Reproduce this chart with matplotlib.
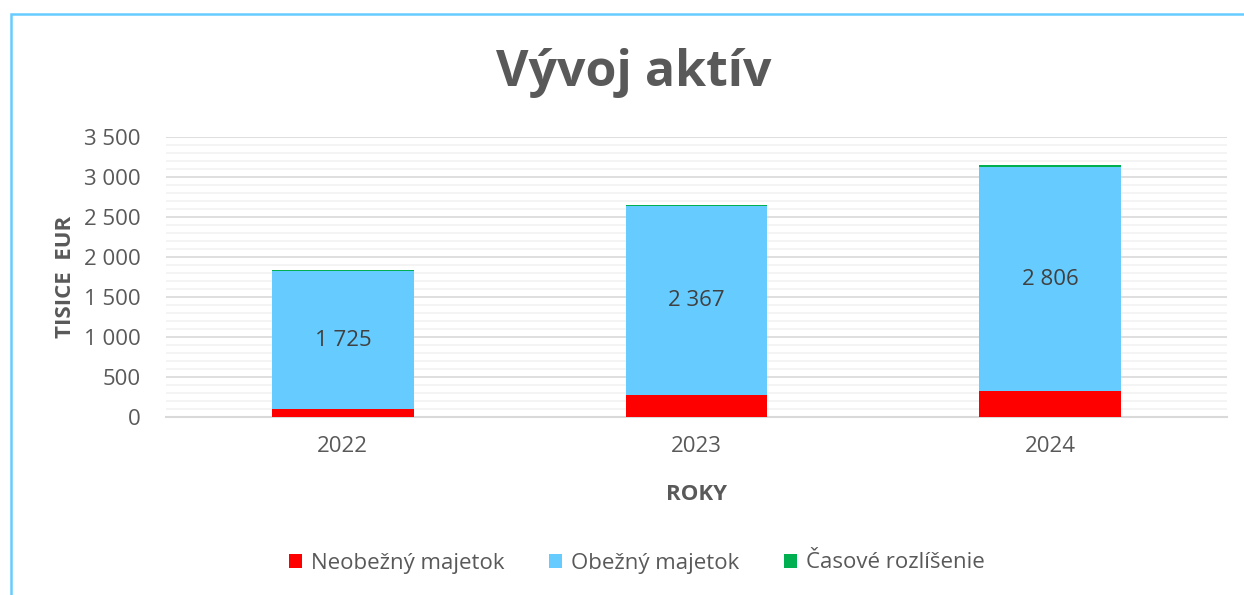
import matplotlib
matplotlib.use("Agg")
import matplotlib.pyplot as plt
from matplotlib.patches import Rectangle
from matplotlib.ticker import MultipleLocator, FuncFormatter

years = ["2022", "2023", "2024"]
neobezny = [95, 275, 316]
obezny = [1725, 2367, 2806]
casove = [15, 12, 24]
series_names = ["Neobežný majetok", "Obežný majetok", "Časové rozlíšenie"]
colors = ["#FF0000", "#66CCFF", "#00B050"]

plt.rcParams['font.family'] = ['Open Sans', 'DejaVu Sans']
txt = "#595959"

fig = plt.figure(figsize=(12.44, 5.95), dpi=100)
ax = fig.add_axes([166/1244, 1-416.7/595, (1227-166)/1244, (416.7-137)/595])

x = range(len(years))
w = 0.40
b1 = ax.bar(x, neobezny, w, color=colors[0], label=series_names[0], zorder=3)
b2 = ax.bar(x, obezny, w, bottom=neobezny, color=colors[1], label=series_names[1], zorder=3)
bot3 = [a + b for a, b in zip(neobezny, obezny)]
b3 = ax.bar(x, casove, w, bottom=bot3, color=colors[2], label=series_names[2], zorder=3)

fmt = lambda v: f"{int(round(v)):,}".replace(",", " ")
for i, (r, o) in enumerate(zip(neobezny, obezny)):
    ax.text(i, r + o / 2, fmt(o), ha="center", va="center", fontsize=16, color="#404040", zorder=4)

ax.set_xlim(-0.5, 2.5)
ax.set_ylim(0, 3500)
ax.yaxis.set_major_locator(MultipleLocator(500))
ax.yaxis.set_minor_locator(MultipleLocator(100))
ax.yaxis.set_major_formatter(FuncFormatter(lambda v, p: fmt(v)))
ax.grid(axis="y", which="minor", color="#F2F2F2", linewidth=1.2, zorder=0)
ax.grid(axis="y", which="major", color="#D9D9D9", linewidth=1.2, zorder=0)
ax.set_xticks(list(x))
ax.set_xticklabels(years)
ax.tick_params(axis="both", which="both", length=0, labelsize=16, labelcolor=txt)
ax.tick_params(axis="x", pad=14)
ax.tick_params(axis="y", pad=18)
for s in ["top", "right", "left"]:
    ax.spines[s].set_visible(False)
ax.spines["bottom"].set_color("#D9D9D9")
ax.spines["bottom"].set_linewidth(1.5)

ax.set_ylabel("TISICE  EUR", fontsize=16, fontweight="bold", color=txt, labelpad=6)
ax.set_xlabel("ROKY", fontsize=16, fontweight="bold", color=txt, labelpad=19)

fig.text(634/1244, 1-73/595, "Vývoj aktív", ha="center", va="center", fontsize=36,
         fontweight="bold", color=txt)

handles = [b1, b2, b3]
leg = fig.legend(handles, series_names, loc="center", bbox_to_anchor=(637/1244, 1-563/595),
                 ncol=3, frameon=False, fontsize=16, handlelength=0.6, handleheight=0.6,
                 columnspacing=2.0, handletextpad=0.4, labelcolor=txt)

fig.patches.append(Rectangle((11/1244, -0.1), 1.2, 1 - 14/595 + 0.1, transform=fig.transFigure,
                             fill=False, edgecolor="#66CCFF", linewidth=1.8))

fig.savefig("out.png", dpi=100)
